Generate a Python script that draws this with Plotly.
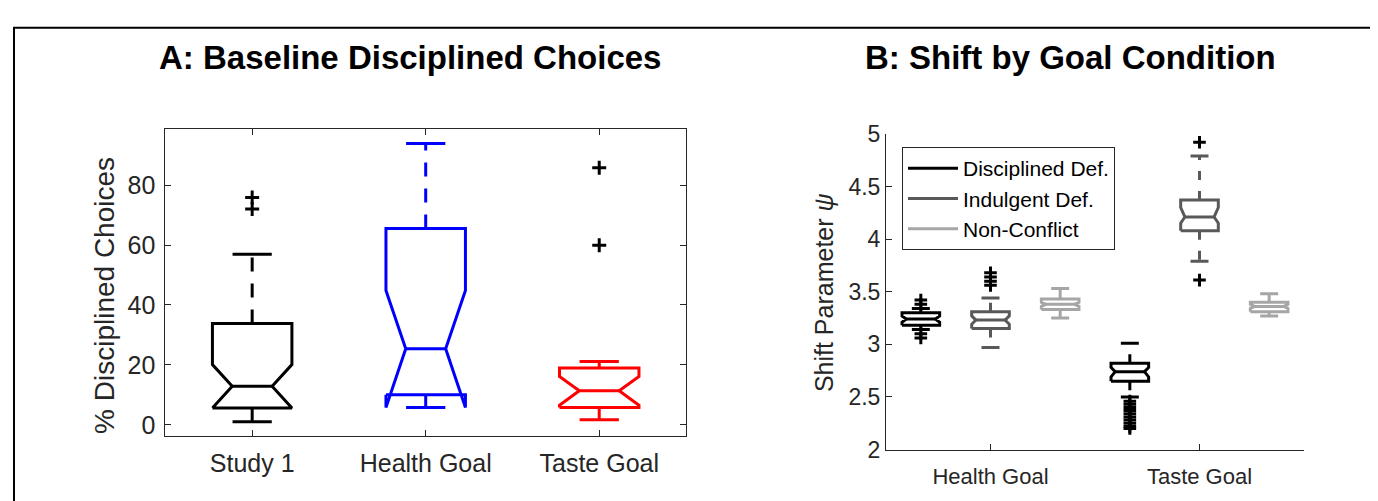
import plotly.graph_objects as go

# ---------------- Panel A data ----------------
catsA = ["Study 1", "Health Goal", "Taste Goal"]
a_wlo = [1.0, 5.8, 1.7]
a_q1 = [5.6, 10.0, 5.8]
a_nlo = [5.6, 5.8, 6.5]
a_med = [12.9, 25.4, 11.4]
a_nhi = [20.1, 44.8, 16.1]
a_q3 = [33.8, 65.5, 19.0]
a_whi = [56.9, 93.9, 21.1]
a_out = [[72.0, 75.9], [], [59.9, 85.8]]
colorsA = ["#000000", "#0000ff", "#ff0000"]

# ---------------- Panel B data ----------------
groupsB = ["Health Goal", "Taste Goal"]
condsB = ["Disciplined Def.", "Indulgent Def.", "Non-Conflict"]
colorsB = ["#000000", "#595959", "#a6a6a6"]
b_wlo = [[3.14, 2.50], [2.97, 3.79], [3.25, 3.27]]
b_q1 = [[3.18, 2.65], [3.15, 4.08], [3.33, 3.31]]
b_nlo = [[3.21, 2.69], [3.19, 4.15], [3.36, 3.34]]
b_med = [[3.24, 2.74], [3.23, 4.21], [3.38, 3.36]]
b_nhi = [[3.27, 2.78], [3.27, 4.30], [3.40, 3.38]]
b_q3 = [[3.30, 2.82], [3.31, 4.37], [3.43, 3.40]]
b_whi = [[3.34, 3.01], [3.44, 4.79], [3.53, 3.48]]
b_out = [
    [[3.38, 3.42, 3.10, 3.06], [2.46, 2.43, 2.40, 2.37, 2.34, 2.31, 2.28, 2.25, 2.22, 2.20]],
    [[3.56, 3.60, 3.64, 3.68], [3.61, 4.92]],
    [[], []],
]

W, H = 1378, 501
FONT = "Liberation Sans, Arial, Helvetica, sans-serif"
AX = "#262626"

fig = go.Figure()


def add_box(x, hw, nw, cw, q1, nlo, med, nhi, q3, wlo, whi, outs, color, lw, dash,
            msize, xa, ya, name=None, showlegend=False):
    xs = [x - hw, x - hw, x - nw, x - hw, x - hw, x + hw, x + hw, x + nw, x + hw, x + hw, x - hw,
          None, x - nw, x + nw]
    ys = [q1, nlo, med, nhi, q3, q3, nhi, med, nlo, q1, q1, None, med, med]
    fig.add_trace(go.Scatter(x=xs, y=ys, mode="lines", line=dict(color=color, width=lw),
                             xaxis=xa, yaxis=ya, name=name, showlegend=showlegend,
                             hoverinfo="skip"))
    # whiskers (dashed)
    fig.add_trace(go.Scatter(x=[x, x, None, x, x], y=[q3, whi, None, q1, wlo], mode="lines",
                             line=dict(color=color, width=lw, dash=dash),
                             xaxis=xa, yaxis=ya, showlegend=False, hoverinfo="skip"))
    # caps
    fig.add_trace(go.Scatter(x=[x - cw, x + cw, None, x - cw, x + cw], y=[whi, whi, None, wlo, wlo],
                             mode="lines", line=dict(color=color, width=lw),
                             xaxis=xa, yaxis=ya, showlegend=False, hoverinfo="skip"))
    if outs:
        fig.add_trace(go.Scatter(x=[x] * len(outs), y=outs, mode="markers",
                                 marker=dict(symbol="cross-thin", size=msize, color="#000000",
                                             line=dict(color="#000000", width=3)),
                                 xaxis=xa, yaxis=ya, showlegend=False, hoverinfo="skip"))


# Panel A boxes
for i in range(3):
    add_box(i + 1, 0.229, 0.115, 0.113, a_q1[i], a_nlo[i], a_med[i], a_nhi[i], a_q3[i],
            a_wlo[i], a_whi[i], a_out[i], colorsA[i], 3, "14px,12px", 10, "x", "y")

# Panel B boxes
offsets = [-1 / 3, 0, 1 / 3]
for c in range(3):
    for g in range(2):
        add_box(g + 1 + offsets[c], 0.09, 0.07, 0.043, b_q1[c][g], b_nlo[c][g], b_med[c][g],
                b_nhi[c][g], b_q3[c][g], b_wlo[c][g], b_whi[c][g], b_out[c][g], colorsB[c],
                3, "9px,11px", 9, "x2", "y2", name=condsB[c], showlegend=(g == 0))

fig.update_layout(
    width=W, height=H, autosize=False,
    margin=dict(l=0, r=0, t=0, b=0),
    paper_bgcolor="white", plot_bgcolor="white",
    font=dict(family=FONT, color=AX),
    showlegend=True,
    legend=dict(x=894 / W, y=(H - 133) / H, xanchor="left", yanchor="top",
                bgcolor="white", bordercolor=AX, borderwidth=1,
                font=dict(size=21, color="#000000", family=FONT),
                tracegroupgap=0, itemwidth=50),
    xaxis=dict(domain=[157.4 / W, 678 / W], range=[0.5, 3.5], tickvals=[1, 2, 3], ticktext=catsA,
               ticks="inside", ticklen=6, tickcolor=AX, showline=True, linecolor=AX, linewidth=1,
               mirror="ticks", showgrid=False, zeroline=False, tickfont=dict(size=25, color=AX),
               ticklabelstandoff=5, anchor="y"),
    yaxis=dict(domain=[(H - 437.3) / H, (H - 114.3) / H], range=[-3.6, 98.6],
               tickvals=[0, 20, 40, 60, 80], ticks="inside", ticklen=6, tickcolor=AX,
               showline=True, linecolor=AX, linewidth=1, mirror="ticks", showgrid=False,
               zeroline=False, tickfont=dict(size=25, color=AX), ticklabelstandoff=4,
               anchor="x"),
    xaxis2=dict(domain=[878 / W, 1296 / W], range=[0.5, 2.5], tickvals=[1, 2], ticktext=groupsB,
                ticks="inside", ticklen=6, tickcolor=AX, showline=True, linecolor=AX,
                linewidth=1, mirror=False, showgrid=False, zeroline=False,
                tickfont=dict(size=22, color=AX), ticklabelstandoff=7, anchor="y2"),
    yaxis2=dict(domain=[(H - 452) / H, (H - 119) / H], range=[2, 5],
                tickvals=[2, 2.5, 3, 3.5, 4, 4.5, 5],
                ticktext=["2", "2.5", "3", "3.5", "4", "4.5", "5"],
                ticks="inside", ticklen=6, tickcolor=AX, showline=True, linecolor=AX,
                linewidth=1, mirror=False, showgrid=False, zeroline=False,
                tickfont=dict(size=23, color=AX), anchor="x2"),
)

annos = [
    dict(text="<b>A: Baseline Disciplined Choices</b>", x=401.5 / W, y=(H - 38) / H,
         font=dict(size=33, color="#000000")),
    dict(text="<b>B: Shift by Goal Condition</b>", x=1062.5 / W, y=(H - 38) / H,
         font=dict(size=33, color="#000000")),
    dict(text="% Disciplined Choices", x=97 / W, y=(H - 290) / H, textangle=-90,
         font=dict(size=28, color=AX)),
    dict(text="Shift Parameter <i>ψ</i>", x=816 / W, y=(H - 287) / H, textangle=-90,
         font=dict(size=25, color=AX)),
]
for a in annos:
    a.update(xref="paper", yref="paper", xanchor="center", yanchor="middle", showarrow=False)
    fig.add_annotation(**a)

fig.add_shape(type="rect", xref="paper", yref="paper", x0=6 / W, x1=1376 / W,
              y0=-0.02, y1=(H - 7) / H, line=dict(color="#000000", width=2))

fig.write_html("out.html")
